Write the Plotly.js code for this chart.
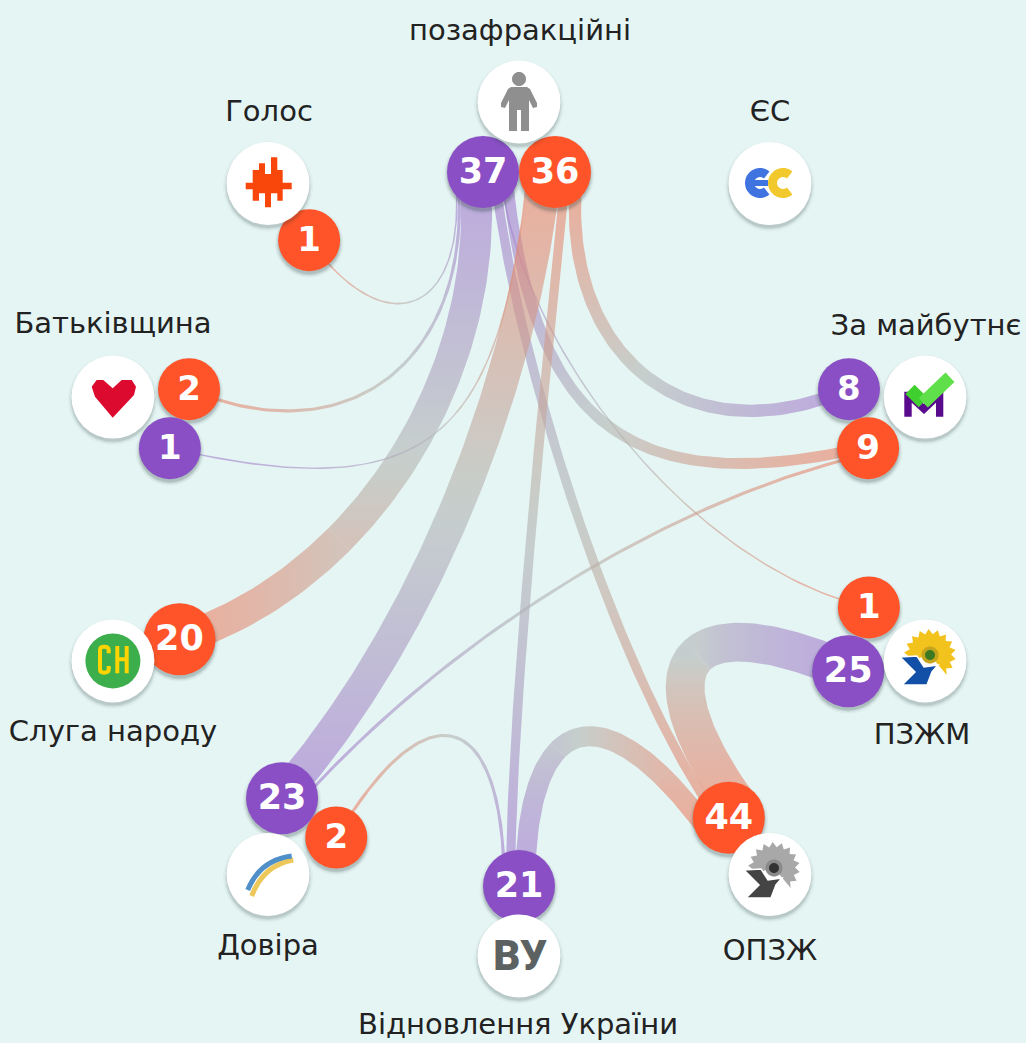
<!DOCTYPE html>
<html><head><meta charset="utf-8">
<script src="https://cdn.plot.ly/plotly-3.0.1.min.js"></script>
<style>html,body{margin:0;padding:0;background:#e5f5f4}#c{width:1026px;height:1043px}</style>
</head><body><div id="c"></div>
<script>
// ---------- data ----------
const nodeNames = ['позафракційні','ЄС','За майбутнє','ПЗЖМ','ОПЗЖ','Відновлення України','Довіра','Слуга народу','Батьківщина','Голос'];
const badgeNode  = [0,0,9,8,8,2,2,3,3,4,5,6,6,7];
const badgeValue = [37,36,1,2,1,8,9,1,25,44,21,23,2,20];
const badgeKind  = ['out','in','in','in','out','out','in','in','out','in','out','out','in','in'];
const badgeSide  = [-1,1,0,1,-1,-1,1,-1,1,0,0,1,-1,0];
const flowFrom  = [0,0,0,0,0,0,4,11,10,5,11,8,10,10];
const flowTo    = [2,3,13,9,7,6,1,1,1,1,6,9,9,12];
const flowValue = [1,2,20,6,1,7,1,21,6,8,2,25,13,2];
const flowBend  = [.38,.5,.55,.5,.5,.7,.75,.6,.5,.5,.6,.5,.5,.5];
const stackOrder = {0:[0,1,2,3,4,5],1:[6,7,8,9],6:[5,10],9:[11,3,12],10:[12,8,13],11:[10,7]};
// ---------- geometry ----------
const CX=519,CY=529,R_NODE=427,R_BADGE=357,PX=1.55;
const labelX=[520,770,926,922,770,518,268,113,113,269];
const labelY=[33,114,328,737,953,1027,948,734,326,114];
const unit=i=>{const a=(-90+36*i)*Math.PI/180;return [Math.cos(a),Math.sin(a)]};
const nodeX=nodeNames.map((_,i)=>CX+R_NODE*unit(i)[0]);
const nodeY=nodeNames.map((_,i)=>CY+R_NODE*unit(i)[1]);
const radius=v=>v>=10?36:31;
const badgeX=[],badgeY=[];
badgeValue.forEach((v,b)=>{
  const n=badgeNode[b],u=unit(n),t=[-u[1],u[0]];
  let sep=0;
  badgeValue.forEach((w,o)=>{if(o!==b&&badgeNode[o]===n)sep=radius(v)+radius(w)});
  const s=badgeSide[b]*sep/2;
  badgeX.push(CX+R_BADGE*u[0]+s*t[0]);badgeY.push(CY+R_BADGE*u[1]+s*t[1]);
});
const PURPLE=[160,117,208],MID=[177,182,178],RED=[240,125,95],ALPHA=0.6;
function flowColor(t){
  const [a,b,k]=t<.5?[PURPLE,MID,t*2]:[MID,RED,(t-.5)*2];
  return 'rgba('+a.map((c,i)=>Math.round(c+(b[i]-c)*k)).join(',')+','+ALPHA+')';
}
function offsetOf(b,f){
  const order=stackOrder[b];
  if(!order) return 0;
  const tot=order.reduce((s,i)=>s+flowValue[i],0);
  let acc=0;
  for(const i of order){ if(i===f) return (acc+flowValue[i]/2-tot/2)*PX; acc+=flowValue[i]; }
  return 0;
}
function endPoints(b,f){
  const dx=CX-badgeX[b],dy=CY-badgeY[b],L=Math.hypot(dx,dy);
  const n=[dy/L,-dx/L],o=offsetOf(b,f);
  const p=[badgeX[b]+n[0]*o,badgeY[b]+n[1]*o];
  return {p,c:[p[0]+flowBend[f]*dx,p[1]+flowBend[f]*dy]};
}
function ribbonTraces(f){
  const A=endPoints(flowFrom[f],f),B=endPoints(flowTo[f],f),N=90,w=flowValue[f]*PX;
  const pts=[],tan=[];
  for(let i=0;i<=N;i++){
    const t=i/N,m=1-t;
    const q=[0,1].map(k=>m*m*m*A.p[k]+3*m*m*t*A.c[k]+3*m*t*t*B.c[k]+t*t*t*B.p[k]);
    const d=[0,1].map(k=>3*m*m*(A.c[k]-A.p[k])+6*m*t*(B.c[k]-A.c[k])+3*t*t*(B.p[k]-B.c[k]));
    const l=Math.hypot(d[0],d[1])||1;
    pts.push(q);tan.push([d[0]/l,d[1]/l]);
  }
  const groups=[];
  for(let i=0;i<=N;i++){
    const ax=Math.abs(tan[i][0])>Math.abs(tan[i][1])?0:1;
    const g=groups[groups.length-1];
    if(g&&g.ax===ax) g.b=i; else groups.push({ax,a:g?g.b:0,b:i});
  }
  const merged=[];
  groups.forEach(g=>{
    const last=merged[merged.length-1];
    if(last&&g.b-g.a<10) last.b=g.b; else merged.push(g);
  });
  return merged.map(g=>{
    const L=[],Rr=[];
    for(let i=g.a;i<=g.b;i++){
      L.push([pts[i][0]-tan[i][1]*w/2,pts[i][1]+tan[i][0]*w/2]);
      Rr.push([pts[i][0]+tan[i][1]*w/2,pts[i][1]-tan[i][0]*w/2]);
    }
    const poly=L.concat(Rr.reverse());poly.push(poly[0]);
    const vals=[];
    for(let i=g.a;i<=g.b;i+=Math.max(1,Math.floor((g.b-g.a)/14))) vals.push([pts[i][g.ax],i/N]);
    vals.push([pts[g.b][g.ax],g.b/N]);
    vals.sort((p,q)=>p[0]-q[0]);
    const lo=vals[0][0],hi=vals[vals.length-1][0],span=(hi-lo)||1;
    const cs=[];let prev=-1;
    vals.forEach(v=>{const s=(v[0]-lo)/span;if(s>prev+1e-4){cs.push([s,flowColor(v[1])]);prev=s;}});
    cs[0][0]=0;cs[cs.length-1][0]=1;
    return {type:'scatter',mode:'lines',x:poly.map(p=>p[0]),y:poly.map(p=>p[1]),fill:'toself',
      line:{width:0},hoverinfo:'skip',showlegend:false,
      fillgradient:{type:g.ax===0?'horizontal':'vertical',colorscale:cs,start:lo,stop:hi}};
  });
}
function shadowTraces(xs,ys,sizes,k){
  return [[7,.03],[4,.05],[2,.07],[0,.09]].map(([d,a])=>({type:'scatter',mode:'markers',x:xs,y:ys.map(y=>y+3),
    marker:{size:sizes.map(s=>s+d),color:'rgba(30,60,60,'+a*k+')',opacity:1,line:{width:0}},hoverinfo:'skip',showlegend:false}));
}
const FONT='DejaVu Sans';
const traces=[];
flowValue.forEach((_,f)=>traces.push(...ribbonTraces(f)));
const bSizes=badgeValue.map(v=>radius(v)*2);
traces.push(...shadowTraces(badgeX,badgeY,bSizes,1.3));
traces.push({type:'scatter',mode:'markers',x:badgeX,y:badgeY,
  marker:{size:bSizes,color:badgeKind.map(k=>k==='out'?'#8a4fc5':'#ff5429'),opacity:1,line:{width:0}},hoverinfo:'skip',showlegend:false});
traces.push({type:'scatter',mode:'text',x:badgeX,y:badgeY.map(y=>y+2),text:badgeValue.map(String),
  textposition:'middle center',
  textfont:{family:'DejaVu Sans',size:badgeValue.map(v=>v>=10?35:34),color:'#fff',weight:700},hoverinfo:'skip',showlegend:false});
const nSizes=nodeX.map(()=>83);
traces.push(...shadowTraces(nodeX,nodeY,nSizes,1));
traces.push({type:'scatter',mode:'markers',x:nodeX,y:nodeY,marker:{size:nSizes,color:'#fff',opacity:1,line:{width:0}},hoverinfo:'skip',showlegend:false});
traces.push({type:'scatter',mode:'text',x:labelX,y:labelY,text:nodeNames,textposition:'middle center',
  textfont:{family:FONT,size:29,color:'#222'},hoverinfo:'skip',showlegend:false,cliponaxis:false});
// logos
traces.push({type:'scatter',mode:'markers',x:[nodeX[7]],y:[nodeY[7]],marker:{size:55,color:'#3cae4c',opacity:1,line:{width:0}},hoverinfo:'skip',showlegend:false});
traces.push({type:'scatter',mode:'text',x:[nodeX[5]+1],y:[nodeY[5]+3],text:['ВУ'],textposition:'middle center',
  textfont:{family:'Roboto',size:42,color:'#5c6162',weight:900},hoverinfo:'skip',showlegend:false});

const shapes=[];
function poly(pts,fill,edge){shapes.push({type:'path',layer:'above',path:'M'+pts.map(p=>p[0].toFixed(1)+','+p[1].toFixed(1)).join('L')+'Z',fillcolor:fill,line:edge?{color:edge,width:1.5}:{width:0}});}
function stroke(path,color,width){shapes.push({type:'path',layer:'above',path,line:{color,width},fillcolor:'rgba(0,0,0,0)'});}
function disc(x,y,r,fill){const a=[];for(let i=0;i<40;i++){const t=i/40*2*Math.PI;a.push([x+r*Math.cos(t),y+r*Math.sin(t)])}poly(a,fill);}
const zoomed=(ox,oy,l)=>l.map(p=>[p[0]/3+ox,p[1]/3+oy]);
// person
disc(519,79,7,'#8f8f8f');
poly([[511,87],[527,87],[530,89],[537,103],[537,107],[533,108],[529,100],[529,131],[521,131],[521,110],[517,110],[517,131],[509,131],[509,100],[505,108],[501,107],[501,103],[508,89]],'#8f8f8f');
// Голос
poly(zoomed(200,130,[[137,158],[158,158],[158,120],[177,120],[177,100],[195,100],[195,132],[213,132],[213,82],[232,82],[232,120],[248,120],[248,158],[275,158],[275,178],[248,178],[248,212],[232,212],[232,190],[213,190],[213,232],[195,232],[195,190],[177,190],[177,212],[158,212],[158,178],[137,178]]),'#f9460a');
// ЄС
function arc(cx,cy,r,a0,a1){let s='';for(let i=0;i<=24;i++){const a=(a0+(a1-a0)*i/24)*Math.PI/180;s+=(i?'L':'M')+(cx+r*Math.cos(a)).toFixed(1)+','+(cy+r*Math.sin(a)).toFixed(1)}return s;}
stroke(arc(783,183,10.5,50,310),'#f2c92d',9);
stroke(arc(760,183,10.5,50,310),'#3e73e0',9);
stroke('M750,183L768,183','#3e73e0',6);
// За майбутнє
poly(zoomed(800,340,[[313,230],[313,155],[335,155],[372,192],[408,155],[430,155],[430,230],[408,230],[408,188],[372,222],[335,188],[335,230]]),'#5a0a8c');
stroke('M'+(800+330/3)+','+(340+148/3)+'L'+(800+370/3)+','+(340+188/3),'#3fcf2f',13);
stroke('M'+(800+370/3)+','+(340+188/3)+'L'+(800+450/3)+','+(340+112/3),'#5fe04a',13);
// sunflower logos
function flower(cx,cy,petal,ring,core,bird){
  const a=[];const n=12;
  for(let i=0;i<=2*n;i++){const t=(-195+245*i/(2*n))*Math.PI/180,r=i%2?21:26;a.push([cx+r*Math.cos(t),cy+r*Math.sin(t)])}
  a.push([cx,cy]);poly(a,petal);
  disc(cx,cy,8.5,ring);disc(cx,cy,5,core);
  poly([[-30,2],[-13,1],[-6,12],[8,10],[2,17],[-3,30],[-28,30],[-15,17]].map(p=>[cx+p[0],cy+p[1]]),bird,'#fff');
}
flower(930,655,'#f2c21d','#c5a41e','#3c7a22','#1250a8');
flower(774,868,'#a8a8a8','#8a8a8a','#333','#444');
// Батьківщина
poly(zoomed(60,345,[[95,125],[110,105],[130,105],[158,130],[185,105],[215,105],[228,125],[222,150],[158,218],[105,155]]),'#dc0a2e');
// Слуга народу
const cz=(x,y)=>(60+x/3).toFixed(1)+','+(600+y/3).toFixed(1);
stroke('M'+cz(146,160)+'L'+cz(146,150)+'Q'+cz(146,140)+' '+cz(132,140)+'Q'+cz(120,140)+' '+cz(120,150)+'L'+cz(120,208)+'Q'+cz(120,218)+' '+cz(132,218)+'Q'+cz(146,218)+' '+cz(146,208)+'L'+cz(146,198),'#ffd400',4);
stroke('M'+cz(172,138)+'L'+cz(172,220)+'M'+cz(200,138)+'L'+cz(200,220)+'M'+cz(172,178)+'L'+cz(200,178),'#ffd400',4);
// Довіра
const dz=(x,y)=>(210+x/3).toFixed(1)+','+(750+y/3).toFixed(1);
stroke('M'+dz(125,438)+'Q'+dz(160,345)+' '+dz(250,330),'#ecc85a',5);
stroke('M'+dz(113,420)+'Q'+dz(150,330)+' '+dz(245,318),'#4f90c9',5);

Plotly.newPlot('c',traces,{
  width:1026,height:1043,margin:{l:0,r:0,t:0,b:0},showlegend:false,
  paper_bgcolor:'#e5f5f4',plot_bgcolor:'#e5f5f4',
  xaxis:{range:[0,1026],visible:false,fixedrange:true},
  yaxis:{range:[1043,0],visible:false,fixedrange:true},
  shapes
},{displayModeBar:false,staticPlot:true});
</script></body></html>
